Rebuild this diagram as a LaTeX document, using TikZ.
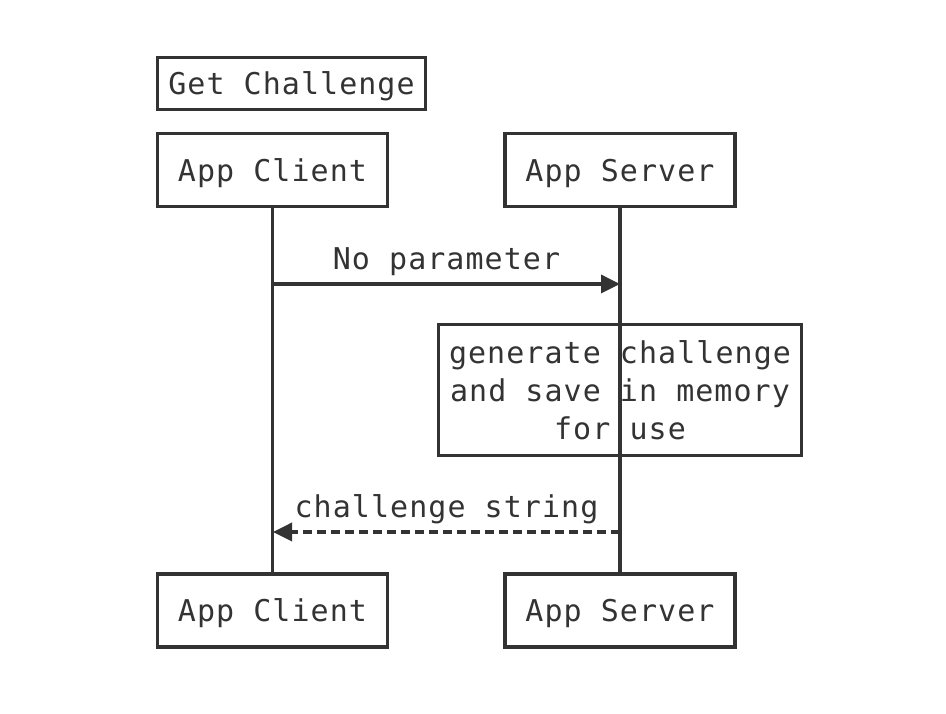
\documentclass[tikz,border=0pt]{standalone}
\usepackage{fontspec}
\setmonofont{DejaVu Sans Mono}[LetterSpace=3.5]
\usetikzlibrary{arrows.meta}
\usetikzlibrary{positioning}

\definecolor{ink}{HTML}{333333}

\begin{document}
\begin{tikzpicture}[x=1pt, y=1pt, line width=3.5pt, draw=ink,
    every node/.style={font=\ttfamily\fontsize{30}{38}\selectfont, text=ink},
    actor/.style={draw=ink, minimum width=230pt, minimum height=73pt, inner sep=0pt, text depth=0pt},
    msglabel/.style={above=6pt, inner sep=0pt},
    msg/.style={-{Triangle[length=19pt, width=18pt]}}]
            \useasboundingbox (0,0) rectangle (946,714);

            % draw title and actors
            \node[draw=ink, minimum width=268pt, minimum height=52pt, inner sep=0pt, text depth=0pt] (title) at (291.5,630.5) {Get Challenge};
            \node[actor] (clientTop) at (272.5,544)   {App Client};
            \node[actor] (serverTop) at (620,544)     {App Server};
            \node[actor] (clientBot) at (272.5,103.5) {App Client};
            \node[actor] (serverBot) at (620,103.5)   {App Server};

            % draw note over server
            \node[draw=ink, minimum width=363pt, minimum height=131pt, inner sep=0pt, align=center]
                 (note) at (620,324) {generate challenge\\and save in memory\\for use};

            % draw lifelines
            \draw (clientTop.south) -- (clientBot.north);
            \draw (serverTop.south) -- (serverBot.north);

            % points on the lifelines
            \coordinate (reqC)  at (273,430);
            \coordinate (reqS)  at (620,430);
            \coordinate (respS) at (620,182);
            \coordinate (respC) at (273,182);

            % draw messages
            \draw[msg] (reqC) -- node[msglabel] (reqText) {No parameter} (reqS);
            \draw[msg, dash pattern=on 9pt off 5pt] (respS) -- node[msglabel] (respText) {challenge string} (respC);
        \end{tikzpicture}
\end{document}
